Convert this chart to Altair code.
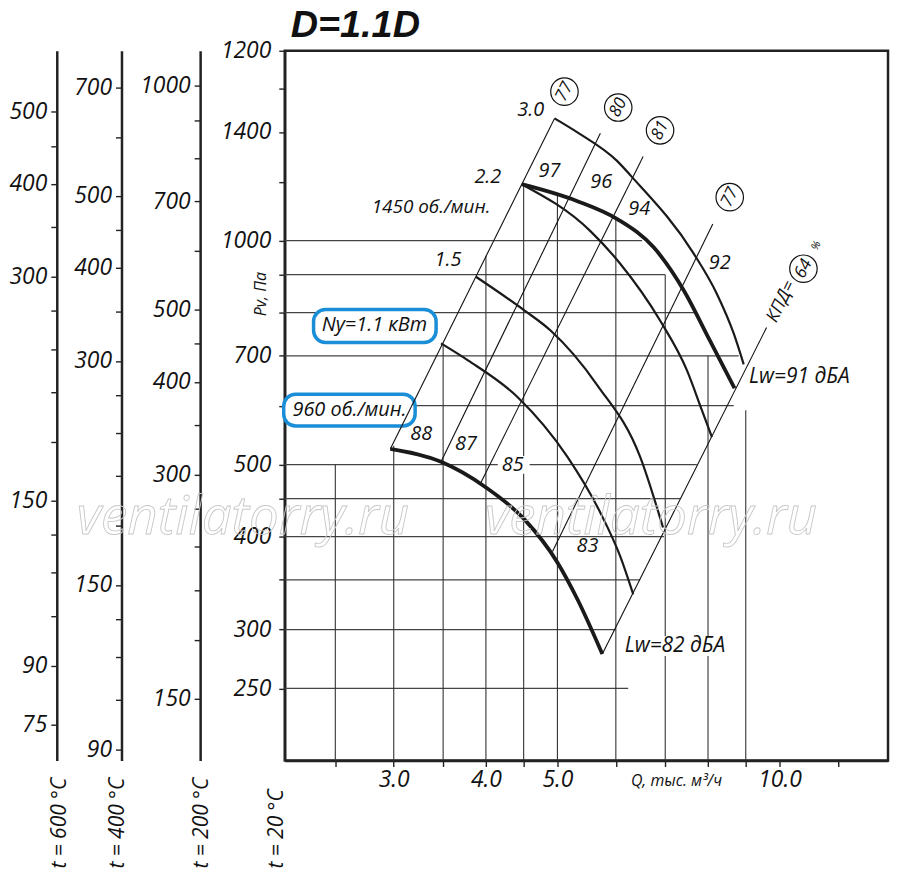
import pandas as pd
import altair as alt

FONT = "Open Sans"
INK = "#1a1a1a"
BLUE = "#1a8ed6"

### scales of the main field (Q in thousand m3/h, Pv in Pa at 20 C)
Q_DOMAIN = [2.135, 14.03]
P_DOMAIN = [200, 1800]

x_ticks = [2.5, 3, 3.5, 4, 4.5, 5, 6, 7, 8, 9, 10, 12]
x_labelled = [3, 4, 5, 10]
y_ticks = [250, 300, 350, 400, 450, 500, 600, 700, 800, 900, 1000, 1200, 1400, 1600, 1800]
y_tick_text = ["250", "300", "", "400", "", "500", "", "700", "", "", "1000", "", "1400", "", "1200"]

### temperature scales on the left
temps = [600, 400, 200]
temp_ticks = {
    600: [500, 450, 400, 350, 300, 270, 240, 210, 180, 150, 135, 120, 105, 90, 75],
    400: [700, 600, 500, 450, 400, 350, 300, 270, 240, 210, 180, 150, 135, 120, 105, 90],
    200: [1000, 900, 800, 700, 600, 500, 450, 400, 350, 300, 270, 240, 210, 180, 150],
}
temp_labels = {
    600: [500, 400, 300, 150, 90, 75],
    400: [700, 500, 400, 300, 150, 90],
    200: [1000, 700, 500, 400, 300, 150],
}

### fan curves
curve_names = ["3.0", "2.2 1450", "2.2", "1.5", "1.1", "960"]
curve_q = {
    "3.0": [4.955, 5.322, 6.027, 6.294, 7.655, 8.222, 8.668, 8.942],
    "2.2 1450": [4.472, 5.322, 6.027, 6.761, 7.421, 8.045, 8.69],
    "2.2": [4.472, 5.542, 6.083, 6.888, 7.491, 7.848, 8.096],
    "1.5": [3.877, 4.514, 4.894, 5.664, 6.473, 6.952],
    "1.1": [3.477, 3.782, 4.417, 5.159, 5.717, 6.083, 6.334],
    "960": [2.968, 3.477, 3.987, 4.514, 5.0, 5.322, 5.752],
}
curve_p = {
    "3.0": [1460, 1398, 1279, 1221, 960, 848.6, 750.2, 681.8],
    "2.2 1450": [1191, 1130, 1069, 977.9, 856.5, 734.2, 633.2],
    "2.2": [1191, 1030, 930.9, 780.9, 669.3, 591.7, 544.5],
    "1.5": [894.3, 805.3, 757.2, 639.1, 512.0, 411.4],
    "1.1": [727.5, 690.3, 615.9, 512.0, 430.8, 376.2, 334.6],
    "960": [524.8, 504.2, 466.8, 421.6, 369.3, 329.5, 278.1],
}
thick_curves = ["2.2 1450", "960"]

### efficiency rays (КПД)
eff_names = ["77a", "80", "81", "77b", "64"]
eff_q = [[2.968, 4.955], [3.477, 5.717], [3.937, 6.534], [4.924, 8.12], [5.752, 9.604]]
eff_p = [[524.8, 1460], [504.2, 1394], [472.6, 1298], [382.1, 1053], [278.1, 764.2]]
eff_text = ["77", "80", "81", "77", "64"]
eff_text_q = [5.111, 6.045, 6.888, 8.561, 10.775]
eff_text_p = [1586, 1510, 1407, 1144, 916.8]

### grid pieces
hgrid_p = [1000, 900, 800, 700, 600, 500, 450, 400, 350, 300, 250]
hgrid_q_end = [6.513, 7.0, 7.727, 8.804, 8.668, 7.727, 7.329, 6.974, 6.473, 6.0, 6.236]
vgrid_q = [2.5, 3, 3.5, 4, 4.5, 5, 6, 7, 8, 9]
vgrid_p_top = [500, 530, 727.5, 954.3, 1187, 1155, 1069, 900, 700, 591.7]

### labels
num_text = ["3.0", "2.2", "1.5", "97", "96", "94", "92", "88", "87", "85", "83"]
num_q = [4.599, 4.024, 3.554, 4.879, 5.734, 6.453, 8.299, 3.268, 3.758, 4.349, 5.49]
num_p = [1500.6, 1217, 942.6, 1240, 1198.5, 1102.9, 933.9, 549.6, 532.9, 499.5, 388.0]

box_text = ["Ny=1.1 кВт", "960 об./мин."]
box_q = [2.824, 2.613]
box_p = [769.0, 591.7]
box_q1 = [2.336, 2.128]
box_q2 = [3.424, 3.207]
box_p1 = [729.7, 563.3]
box_p2 = [807.8, 621.6]

lw_text = ["Lw=91 дБА", "Lw=82 дБА"]
lw_q = [10.64, 7.217]
lw_p = [655.1, 285.1]
rpm_text = ["1450 об./мин."]
rpm_q = [3.371]
rpm_p = [1109.7]

# white patches under labels that cut grid lines
patch_q1 = [4.151, 6.159]
patch_q2 = [4.585, 8.455]
patch_p1 = [485.9, 276.4]
patch_p2 = [513.6, 293.9]

xs = alt.Scale(type="log", domain=Q_DOMAIN, nice=False)
ys = alt.Scale(type="log", domain=P_DOMAIN, nice=False)

AX = dict(domainColor="#222", domainWidth=2.5, tickColor="#222", tickWidth=1.4, tickSize=6,
          labelFont=FONT, labelFontStyle="italic", labelFontSize=23, labelColor="#111",
          labelOverlap=False, grid=False, titleFont=FONT, titleFontStyle="italic",
          titleFontWeight="normal", titleColor="#111")

x_expr = " || ".join(f"datum.value == {v}" for v in x_labelled)
x_axis = alt.Axis(values=x_ticks, labelExpr=f"({x_expr}) ? format(datum.value, '.1f') : ''",
                  labelPadding=2, title="Q, тыс. м³/ч", titleFontSize=16, titleX=393, titleY=20,
                  titleAlign="center", titleBaseline="middle", **AX)
y_expr = "".join(f"datum.value == {v} ? '{t}' : " for v, t in zip(y_ticks, y_tick_text)) + "''"
y_axis = alt.Axis(orient="left", values=y_ticks, labelExpr=y_expr, labelPadding=8,
                  title="Pv, Па", titleFontSize=16, titleX=-24, titleY=244, titleAngle=270,
                  titleAlign="center", titleBaseline="middle", **AX)

X = alt.X("Q:Q", scale=xs, axis=x_axis)
Y = alt.Y("P:Q", scale=ys, axis=y_axis)

# grid
hgrid = pd.DataFrame({"Q": Q_DOMAIN[0], "Q2": hgrid_q_end, "P": hgrid_p})
vgrid = pd.DataFrame({"Q": vgrid_q, "P": P_DOMAIN[0], "P2": vgrid_p_top})
h_rules = alt.Chart(hgrid).mark_rule(color="#444", strokeWidth=1.3).encode(x=X, x2="Q2", y=Y)
v_rules = alt.Chart(vgrid).mark_rule(color="#333", strokeWidth=1.1).encode(x=X, y=Y, y2="P2")

# boxes and patches
boxes = pd.DataFrame({"Q": box_q1, "Q2": box_q2, "P": box_p1, "P2": box_p2})
box_marks = alt.Chart(boxes).mark_rect(fill="white", stroke=BLUE, strokeWidth=3.5,
                                       cornerRadius=12).encode(x=X, x2="Q2", y=Y, y2="P2")
patches = pd.DataFrame({"Q": patch_q1, "Q2": patch_q2, "P": patch_p1, "P2": patch_p2})
patch_marks = alt.Chart(patches).mark_rect(fill="white").encode(x=X, x2="Q2", y=Y, y2="P2")

# efficiency rays
eff_rows = []
for name, qs, ps in zip(eff_names, eff_q, eff_p):
    for q, p in zip(qs, ps):
        eff_rows.append({"line": name, "Q": q, "P": p})
eff = alt.Chart(pd.DataFrame(eff_rows)).mark_line(color="#111", strokeWidth=1.1).encode(
    x=X, y=Y, detail="line:N")

# curves
rows = []
for name in curve_names:
    for i, (q, p) in enumerate(zip(curve_q[name], curve_p[name])):
        rows.append({"curve": name, "Q": q, "P": p, "i": i, "thick": name in thick_curves})
curves = pd.DataFrame(rows)
thin = alt.Chart(curves[~curves.thick]).mark_line(color=INK, strokeWidth=2.2,
                                                   interpolate="monotone").encode(
    x=X, y=Y, detail="curve:N", order="i:Q")
thick = alt.Chart(curves[curves.thick]).mark_line(color=INK, strokeWidth=3.8,
                                                   interpolate="monotone").encode(
    x=X, y=Y, detail="curve:N", order="i:Q")

# texts
def txt(df, **kw):
    style = dict(font=FONT, fontStyle="italic", color="#111", baseline="middle")
    style.update(kw)
    return alt.Chart(df).mark_text(**style).encode(x=X, y=Y, text="t:N")

nums = txt(pd.DataFrame({"t": num_text, "Q": num_q, "P": num_p}), fontSize=20)
boxed = txt(pd.DataFrame({"t": box_text, "Q": box_q, "P": box_p}), fontSize=20)
lws = txt(pd.DataFrame({"t": lw_text, "Q": lw_q, "P": lw_p}), fontSize=21)
rpm = txt(pd.DataFrame({"t": rpm_text, "Q": rpm_q, "P": rpm_p}), fontSize=19)

rings = pd.DataFrame({"t": eff_text, "Q": eff_text_q, "P": eff_text_p})
ring_marks = alt.Chart(rings).mark_point(shape="circle", size=760, filled=True, fill="white",
                                        stroke="#111", strokeWidth=1.2, opacity=1).encode(x=X, y=Y)
ring_text = txt(rings, fontSize=17, angle=296)
kpd = txt(pd.DataFrame({"t": ["КПД="], "Q": [10.06], "P": [827.9]}), fontSize=18, angle=296)
pct = txt(pd.DataFrame({"t": ["%"], "Q": [11.22], "P": [984]}), fontSize=11, angle=296)

title = txt(pd.DataFrame({"t": ["D=1.1D"], "Q": [2.175], "P": [1879]}), fontSize=38,
            font="Liberation Sans", fontWeight="bold", align="left", baseline="alphabetic",
            color="#111")
marks = alt.Chart(pd.DataFrame({"t": ["ventilatorry.ru"] * 2, "Q": [1.874, 6.698],
                                "P": [424.2, 424.2]})).mark_text(
    font=FONT, fontStyle="italic", fontSize=53, fillOpacity=0, stroke="#c8c8c8",
    strokeWidth=0.9, baseline="middle").encode(x=X, y=Y, text="t:N")

main = alt.layer(h_rules, v_rules, box_marks, patch_marks, eff, thin, thick, marks,
                 nums, boxed, lws, rpm, ring_marks, ring_text, kpd, pct, title)

# extra pressure axes for hot gas
def temp_axis(t, offset, tx):
    f = 293 / (273 + t)
    lo, hi = P_DOMAIN[0] * f, P_DOMAIN[1] * f
    lab = ",".join(str(v) for v in temp_labels[t])
    ax = alt.Axis(orient="left", offset=offset, values=temp_ticks[t],
                  labelExpr=f"indexof([{lab}], datum.value) >= 0 ? '' + datum.value : ''",
                  labelPadding=4, title=f"t = {t} °C", titleFontSize=21, titleX=tx, titleY=821,
                  titleAngle=270, titleAlign="left", titleBaseline="middle", **AX)
    return alt.Chart(pd.DataFrame({"v": [lo, hi]})).mark_point(opacity=0).encode(
        y=alt.Y("v:Q", scale=alt.Scale(type="log", domain=[lo, hi], nice=False), axis=ax))

ax600 = temp_axis(600, 229, 3)
ax400 = temp_axis(400, 164, -4)
ax200 = temp_axis(200, 85, 1)
ax20 = alt.Chart(pd.DataFrame({"v": P_DOMAIN})).mark_point(opacity=0).encode(
    y=alt.Y("v:Q", scale=alt.Scale(type="log", domain=P_DOMAIN, nice=False),
            axis=alt.Axis(orient="left", domain=False, ticks=False, labels=False,
                          title="t = 20 °C", titleFontSize=21, titleX=-8, titleY=821,
                          titleAngle=270, titleAlign="left", titleBaseline="middle",
                          titleFont=FONT, titleFontStyle="italic", titleFontWeight="normal",
                          titleColor="#111", grid=False)))

chart = alt.layer(main, ax600, ax400, ax200, ax20).resolve_scale(y="independent").properties(
    width=606, height=713,
    autosize=alt.AutoSizeParams(type="none"),
    padding={"left": 278, "top": 41, "right": 4, "bottom": 110},
).configure_view(stroke="#222", strokeWidth=2.5)

chart.save("out.html", embed_options={"renderer": "svg", "actions": False})
